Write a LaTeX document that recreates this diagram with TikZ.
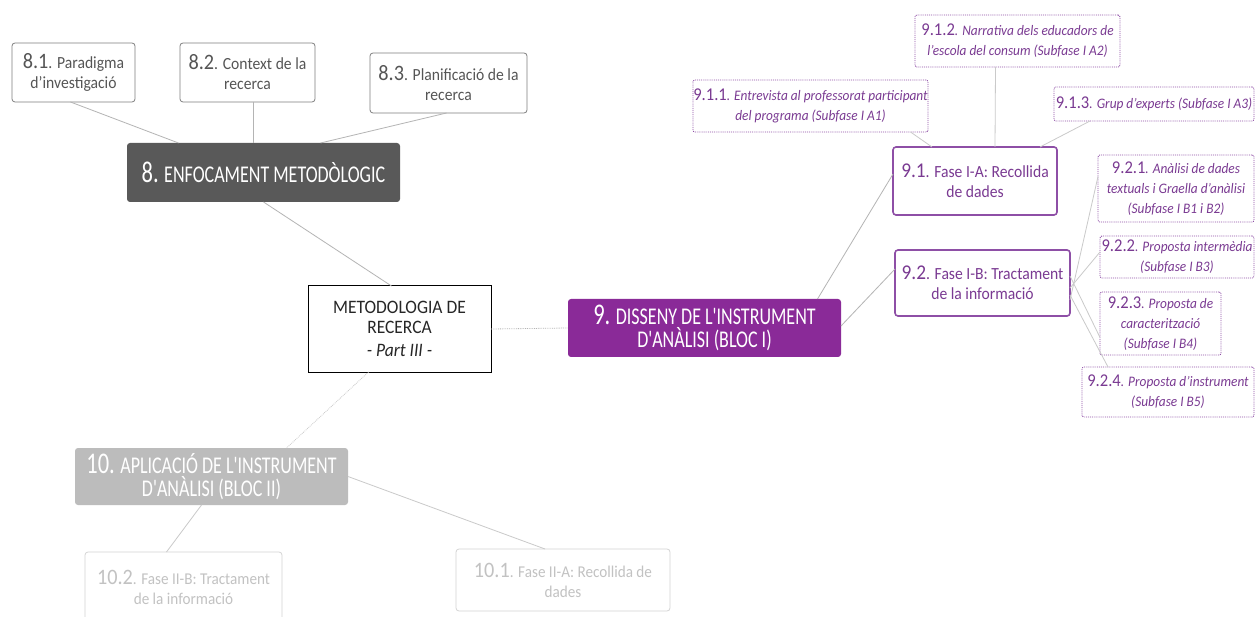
\documentclass[tikz,border=0pt]{standalone}
\usepackage{fontspec}
\setmainfont{Carlito}[FakeStretch=0.92]
\newfontfamily\titlefont{Carlito}[FakeStretch=0.75]
\definecolor{greyline}{HTML}{B4B4B4}
\definecolor{softline}{HTML}{CACACA}
\definecolor{greybox}{HTML}{7F7F7F}
\definecolor{greytext}{HTML}{555555}
\definecolor{darkfill}{HTML}{595959}
\definecolor{purplefill}{HTML}{8A2A98}
\definecolor{purpleline}{HTML}{8E4FA6}
\definecolor{purpletext}{HTML}{7A3A92}
\definecolor{lightfill}{HTML}{BCBCBC}
\definecolor{palebox}{HTML}{D4D4D4}
\definecolor{paletext}{HTML}{C2C2C2}
% larger section numbers inside the boxes
\newcommand{\nb}[1]{{\fontsize{22}{20}\selectfont #1}}
\newcommand{\pnb}[1]{{\fontsize{21}{20}\selectfont #1}}
\newcommand{\bignb}[1]{{\fontsize{30}{23}\selectfont #1}}
\newcommand{\dn}[1]{{\upshape\fontsize{18}{20}\selectfont #1}}
\tikzset{
  base/.style={align=center, inner sep=0pt, outer sep=0pt},
  subbox/.style={base, draw=greybox, line width=0.8pt, rounded corners=3pt, text=greytext,
    font=\fontsize{17}{20}\selectfont},
  titlebox/.style={base, rounded corners=3pt, text=white, font=\titlefont\fontsize{24}{23}\selectfont},
  phasebox/.style={base, draw=purpleline, line width=1.6pt, rounded corners=3pt, text=purpletext,
    font=\fontsize{17}{20}\selectfont},
  detailbox/.style={base, draw=purpleline, densely dotted, line width=0.9pt, rounded corners=2pt,
    text=purpletext, font=\itshape\fontsize{14.5}{20}\selectfont},
  palebox/.style={base, draw=palebox, line width=0.8pt, rounded corners=3pt, text=paletext,
    font=\fontsize{16.5}{20}\selectfont},
  link/.style={draw=greyline, line width=0.8pt},
  softlink/.style={draw=softline, line width=0.8pt},
}
\begin{document}
\begin{tikzpicture}[x=1pt,y=-1pt]
\useasboundingbox[fill=white] (0,0) rectangle (1255,617);

% --- block 8
\node[subbox, minimum width=123, minimum height=59] (n81) at (73.5,72.5)
  {\nb{8.1}. Paradigma\\d'investigació};
\node[subbox, minimum width=135, minimum height=59] (n82) at (247.5,72.5)
  {\nb{8.2}. Context de la\\recerca};
\node[subbox, minimum width=157, minimum height=60] (n83) at (448.5,83)
  {\nb{8.3}. Planificació de la\\recerca};
\node[titlebox, fill=darkfill, minimum width=273, minimum height=59] (n8) at (263.5,172.5)
  {\bignb{8.} ENFOCAMENT METODÒLOGIC};

% --- centre
\node[base, draw=black, line width=1pt, minimum width=183, minimum height=86,
  font=\fontsize{19}{20}\selectfont, text=black!85] (nm) at (399.5,329)
  {METODOLOGIA DE\\RECERCA\\[3pt]{\itshape - Part III -}};

% --- block 9
\node[titlebox, fill=purplefill, minimum width=273, minimum height=58] (n9) at (704.5,328)
  {\bignb{9.} DISSENY DE L'INSTRUMENT\\D'ANÀLISI (BLOC I)};
\node[phasebox, minimum width=164, minimum height=68] (n91) at (975,181)
  {\pnb{9.1}. Fase I-A: Recollida\\de dades};
\node[phasebox, minimum width=175, minimum height=66] (n92) at (982.5,283)
  {\pnb{9.2}. Fase I-B: Tractament\\de la informació};

\node[detailbox, minimum width=235, minimum height=52] (n911) at (810.5,106)
  {\dn{9.1.1}. Entrevista al professorat participant\\del programa (Subfase I A1)};
\node[detailbox, minimum width=205, minimum height=52] (n912) at (1017.5,41)
  {\dn{9.1.2}. Narrativa dels educadors de\\l'escola del consum (Subfase I A2)};
\node[detailbox, minimum width=200, minimum height=34] (n913) at (1154,104)
  {\dn{9.1.3}. Grup d'experts (Subfase I A3)};
\node[detailbox, minimum width=156, minimum height=67] (n921) at (1176,188.5)
  {\dn{9.2.1}. Anàlisi de dades\\textuals i Graella d'anàlisi\\(Subfase I B1 i  B2)};
\node[detailbox, minimum width=154, minimum height=42] (n922) at (1177,257)
  {\dn{9.2.2}. Proposta intermèdia\\(Subfase I B3)};
\node[detailbox, minimum width=121, minimum height=63] (n923) at (1160.5,323.5)
  {\dn{9.2.3}. Proposta de\\caracterització\\(Subfase I B4)};
\node[detailbox, minimum width=172, minimum height=50] (n924) at (1168,392)
  {\dn{9.2.4}. Proposta d'instrument\\(Subfase I B5)};

% --- block 10
\node[titlebox, fill=lightfill, minimum width=273, minimum height=57] (n10) at (211.5,476.5)
  {\bignb{10.} APLICACIÓ DE L'INSTRUMENT\\D'ANÀLISI (BLOC II)};
\node[palebox, minimum width=197, minimum height=70] (n102) at (183.5,587)
  {\nb{10.2}. Fase II-B: Tractament\\de la informació};
\node[palebox, minimum width=214, minimum height=62] (n101) at (563,580)
  {\nb{10.1}. Fase II-A: Recollida de\\dades};

% --- connectors of block 8
\draw[link] ([xshift=-3]n81.south) -- ([xshift=-85]n8.north);
\draw[link] ([xshift=6]n82.south) -- ([xshift=6]n82.south |- n8.north);
\draw[link] ([xshift=-2]n83.south) -- ([xshift=57]n8.north);
\draw[link] (n8.south) -- ([xshift=-8]nm.north);

% --- connectors from the centre
\draw[link, densely dotted] (nm.east) -- (n9.west);
\draw[softlink, densely dotted] ([xshift=-31]nm.south) -- ([xshift=75]n10.north);

% --- connectors of block 9
\draw[link] ([xshift=113]n9.north) -- ([yshift=7]n91.west);
\draw[link] ([yshift=2]n9.east) -- ([yshift=14]n92.west);
\draw[softlink] ([xshift=100]n911.south) -- ([xshift=-43]n91.north);
\draw[softlink] ([xshift=-22]n912.south) -- ([xshift=20]n91.north);
\draw[softlink] ([xshift=-64]n913.south) -- ([xshift=65]n91.north);
\draw[softlink] ([yshift=-17]n92.east) -- ([yshift=12]n921.west);
\draw[softlink] ([yshift=-5]n92.east) -- ([yshift=5]n922.west);
\draw[softlink] ([yshift=7]n92.east) -- ([yshift=-14]n923.west);
\draw[softlink] ([yshift=-12]n92.east) -- ([xshift=-60]n924.north);

% --- connectors of block 10
\draw[softlink] (n10.east) -- ([xshift=-18]n101.north);
\draw[softlink] ([xshift=-10]n10.south) -- ([xshift=-17]n102.north);
\end{tikzpicture}
\end{document}
